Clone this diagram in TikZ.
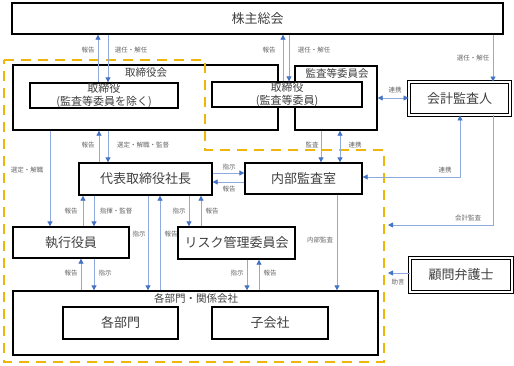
\documentclass[tikz,border=0pt]{standalone}
\usepackage{fontspec}
\setmainfont{Noto Sans CJK JP}
\usetikzlibrary{arrows.meta}
\definecolor{lineblue}{RGB}{143,170,220}
\definecolor{headblue}{RGB}{68,114,196}
\definecolor{gold}{RGB}{238,182,10}
\tikzset{
  box/.style={draw, line width=1.3pt, fill=white, inner sep=0pt, text=black!75,
    font=\fontsize{13}{15}\selectfont, align=center},
  dbox/.style={box, double, double distance=1.3pt, line width=0.9pt},
  smallbox/.style={box, font=\fontsize{11}{13.5}\selectfont},
  ttl/.style={inner sep=0pt, text=black!75, font=\fontsize{10.5}{12}\selectfont},
  lbl/.style={inner sep=0pt, text=black!60, font=\fontsize{6.5}{7}\selectfont},
  arr/.style={draw=lineblue, line width=0.8pt, -{Triangle[length=5pt,width=5pt,color=headblue]}},
  darr/.style={draw=lineblue, line width=0.8pt,
    {Triangle[length=5pt,width=5pt,color=headblue]}-{Triangle[length=5pt,width=5pt,color=headblue]}},
}
\begin{document}
\begin{tikzpicture}[x=1pt, y=-1pt]
    \useasboundingbox (0,0) rectangle (514,365);

    % 株主総会
    \node[box, minimum width=491pt, minimum height=31pt] (gm) at (257.5,18.5) {株主総会};

    % 取締役会・監査等委員会
    \node[box, minimum width=265pt, minimum height=65pt] (bdc) at (145.5,97.5) {};
    \node[ttl] (bdc-t) at (146,73) {取締役会};
    \node[box, minimum width=82pt, minimum height=64pt] (acc) at (336,98) {};
    \node[ttl] (acc-t) at (337,73) {監査等委員会};
    \node[smallbox, minimum width=148pt, minimum height=25pt] (bd1) at (104,95.5) {取締役\\(監査等委員を除く)};
    \node[smallbox, minimum width=150pt, minimum height=25pt] (bd2) at (287,94.5) {取締役\\(監査等委員)};

    % 外部
    \node[dbox, minimum width=101pt, minimum height=33pt] (aud) at (459.5,98.5) {会計監査人};
    \node[dbox, minimum width=102pt, minimum height=34pt] (law) at (461,275) {顧問弁護士};

    % 執行側
    \node[box, minimum width=133pt, minimum height=32pt] (ceo) at (145.5,179) {代表取締役社長};
    \node[box, minimum width=117pt, minimum height=31pt] (iad) at (303.5,178.5) {内部監査室};
    \node[box, minimum width=116pt, minimum height=31pt] (exo) at (71,242.5) {執行役員};
    \node[box, minimum width=117pt, minimum height=32pt] (risk) at (236.5,243) {リスク管理委員会};

    % 各部門・関係会社
    \node[box, minimum width=365pt, minimum height=64pt] (grp) at (195.5,323) {};
    \node[ttl] (grp-t) at (196,298) {各部門・関係会社};
    \node[box, minimum width=115pt, minimum height=32pt] (dep) at (120.5,323) {各部門};
    \node[box, minimum width=116pt, minimum height=32pt] (sub) at (270,323) {子会社};

    % 内部統制の範囲
    \draw[gold, line width=2.5pt, dash pattern=on 10pt off 7pt]
        (4,60) -- (205,60) -- (205,150) -- (384,150) -- (384,362) -- (4,362) -- cycle;
    \coordinate (acc-in) at (388,225);
    \coordinate (law-in) at (388,273);

    % 株主総会との矢印
    \draw[arr] ([xshift=-6pt]bd1.north) -- ([xshift=-6pt]bd1.north |- gm.south);
    \draw[arr] ([xshift=4pt]bd1.north |- gm.south) -- ([xshift=4pt]bd1.north);
    \node[lbl] (l1) at (88,50) {報告};
    \node[lbl] (l2) at (131,50) {選任・解任};
    \draw[arr] ([xshift=-4pt]bd2.north) -- ([xshift=-4pt]bd2.north |- gm.south);
    \draw[arr] ([xshift=2pt]bd2.north |- gm.south) -- ([xshift=2pt]bd2.north);
    \node[lbl] (l3) at (269,50) {報告};
    \node[lbl] (l4) at (314,50) {選任・解任};
    \draw[arr] ([xshift=33.5pt]aud.north |- gm.south) -- ([xshift=33.5pt]aud.north);
    \node[lbl] (l5) at (473,58) {選任・解任};

    % 会計監査人
    \draw[darr] (acc.east) -- (acc.east -| aud.west);
    \node[lbl] (l6) at (395,90) {連携};
    \draw[darr] ([xshift=0.5pt]aud.south) |- ([yshift=1.5pt]iad.east);
    \node[lbl] (l7) at (445,170) {連携};
    \draw[arr] ([xshift=33.5pt]aud.south) |- (acc-in);
    \node[lbl] (l8) at (468,218) {会計監査};
    \draw[arr] ([yshift=2pt]law.west) -- (law-in);
    \node[lbl] (l9) at (398,282) {助言};

    % 取締役会から下へ
    \draw[arr] ([xshift=-46.5pt]ceo.north) -- ([xshift=-46.5pt]ceo.north |- bdc.south);
    \draw[arr] ([xshift=-37.5pt]ceo.north |- bdc.south) -- ([xshift=-37.5pt]ceo.north);
    \node[lbl] (l10) at (88,145) {報告};
    \node[lbl] (l11) at (143,145) {選定・解職・監督};
    \draw[arr] ([xshift=-21pt]exo.north |- bdc.south) -- ([xshift=-21pt]exo.north);
    \node[lbl] (l12) at (27,170) {選定・解職};
    \draw[arr] ([xshift=17.5pt]iad.north |- acc.south) -- ([xshift=17.5pt]iad.north);
    \node[lbl] (l13) at (312,145) {監査};
    \draw[darr] ([xshift=36.5pt]iad.north |- acc.south) -- ([xshift=36.5pt]iad.north);
    \node[lbl] (l14) at (355,145) {連携};

    % 代表取締役社長
    \draw[arr] ([yshift=6pt]ceo.east) -- ([yshift=6pt]ceo.east -| iad.west);
    \node[lbl] (l15) at (229,167) {指示};
    \draw[arr] ([yshift=-3pt]ceo.east -| iad.west) -- ([yshift=-3pt]ceo.east);
    \node[lbl] (l16) at (229,189) {報告};
    \draw[arr] ([xshift=12pt]exo.north) -- ([xshift=12pt]exo.north |- ceo.south);
    \draw[arr] ([xshift=23pt]exo.north |- ceo.south) -- ([xshift=23pt]exo.north);
    \node[lbl] (l17) at (71,211) {報告};
    \node[lbl] (l18) at (116,211) {指揮・監督};
    \draw[arr] ([xshift=-47.5pt]risk.north |- ceo.south) -- ([xshift=-47.5pt]risk.north);
    \draw[arr] ([xshift=-35.5pt]risk.north) -- ([xshift=-35.5pt]risk.north |- ceo.south);
    \node[lbl] (l19) at (179,211) {指示};
    \node[lbl] (l20) at (212,211) {報告};
    \draw[arr] ([xshift=2.5pt]ceo.south) -- ([xshift=2.5pt]ceo.south |- grp.north);
    \draw[arr] ([xshift=14.5pt]ceo.south |- grp.north) -- ([xshift=14.5pt]ceo.south);
    \node[lbl] (l21) at (139,234) {指示};
    \node[lbl] (l22) at (171,234) {報告};

    % 各部門・関係会社へ
    \draw[arr] ([xshift=10pt]exo.south |- grp.north) -- ([xshift=10pt]exo.south);
    \draw[arr] ([xshift=23pt]exo.south) -- ([xshift=23pt]exo.south |- grp.north);
    \node[lbl] (l23) at (71,273) {報告};
    \node[lbl] (l24) at (105,273) {指示};
    \draw[arr] ([xshift=10.5pt]risk.south) -- ([xshift=10.5pt]risk.south |- grp.north);
    \draw[arr] ([xshift=22.5pt]risk.south |- grp.north) -- ([xshift=22.5pt]risk.south);
    \node[lbl] (l25) at (237,273) {指示};
    \node[lbl] (l26) at (270,273) {報告};
    \draw[arr] ([xshift=33.5pt]iad.south) -- ([xshift=33.5pt]iad.south |- grp.north);
    \node[lbl] (l27) at (320,240) {内部監査};
\end{tikzpicture}
\end{document}
